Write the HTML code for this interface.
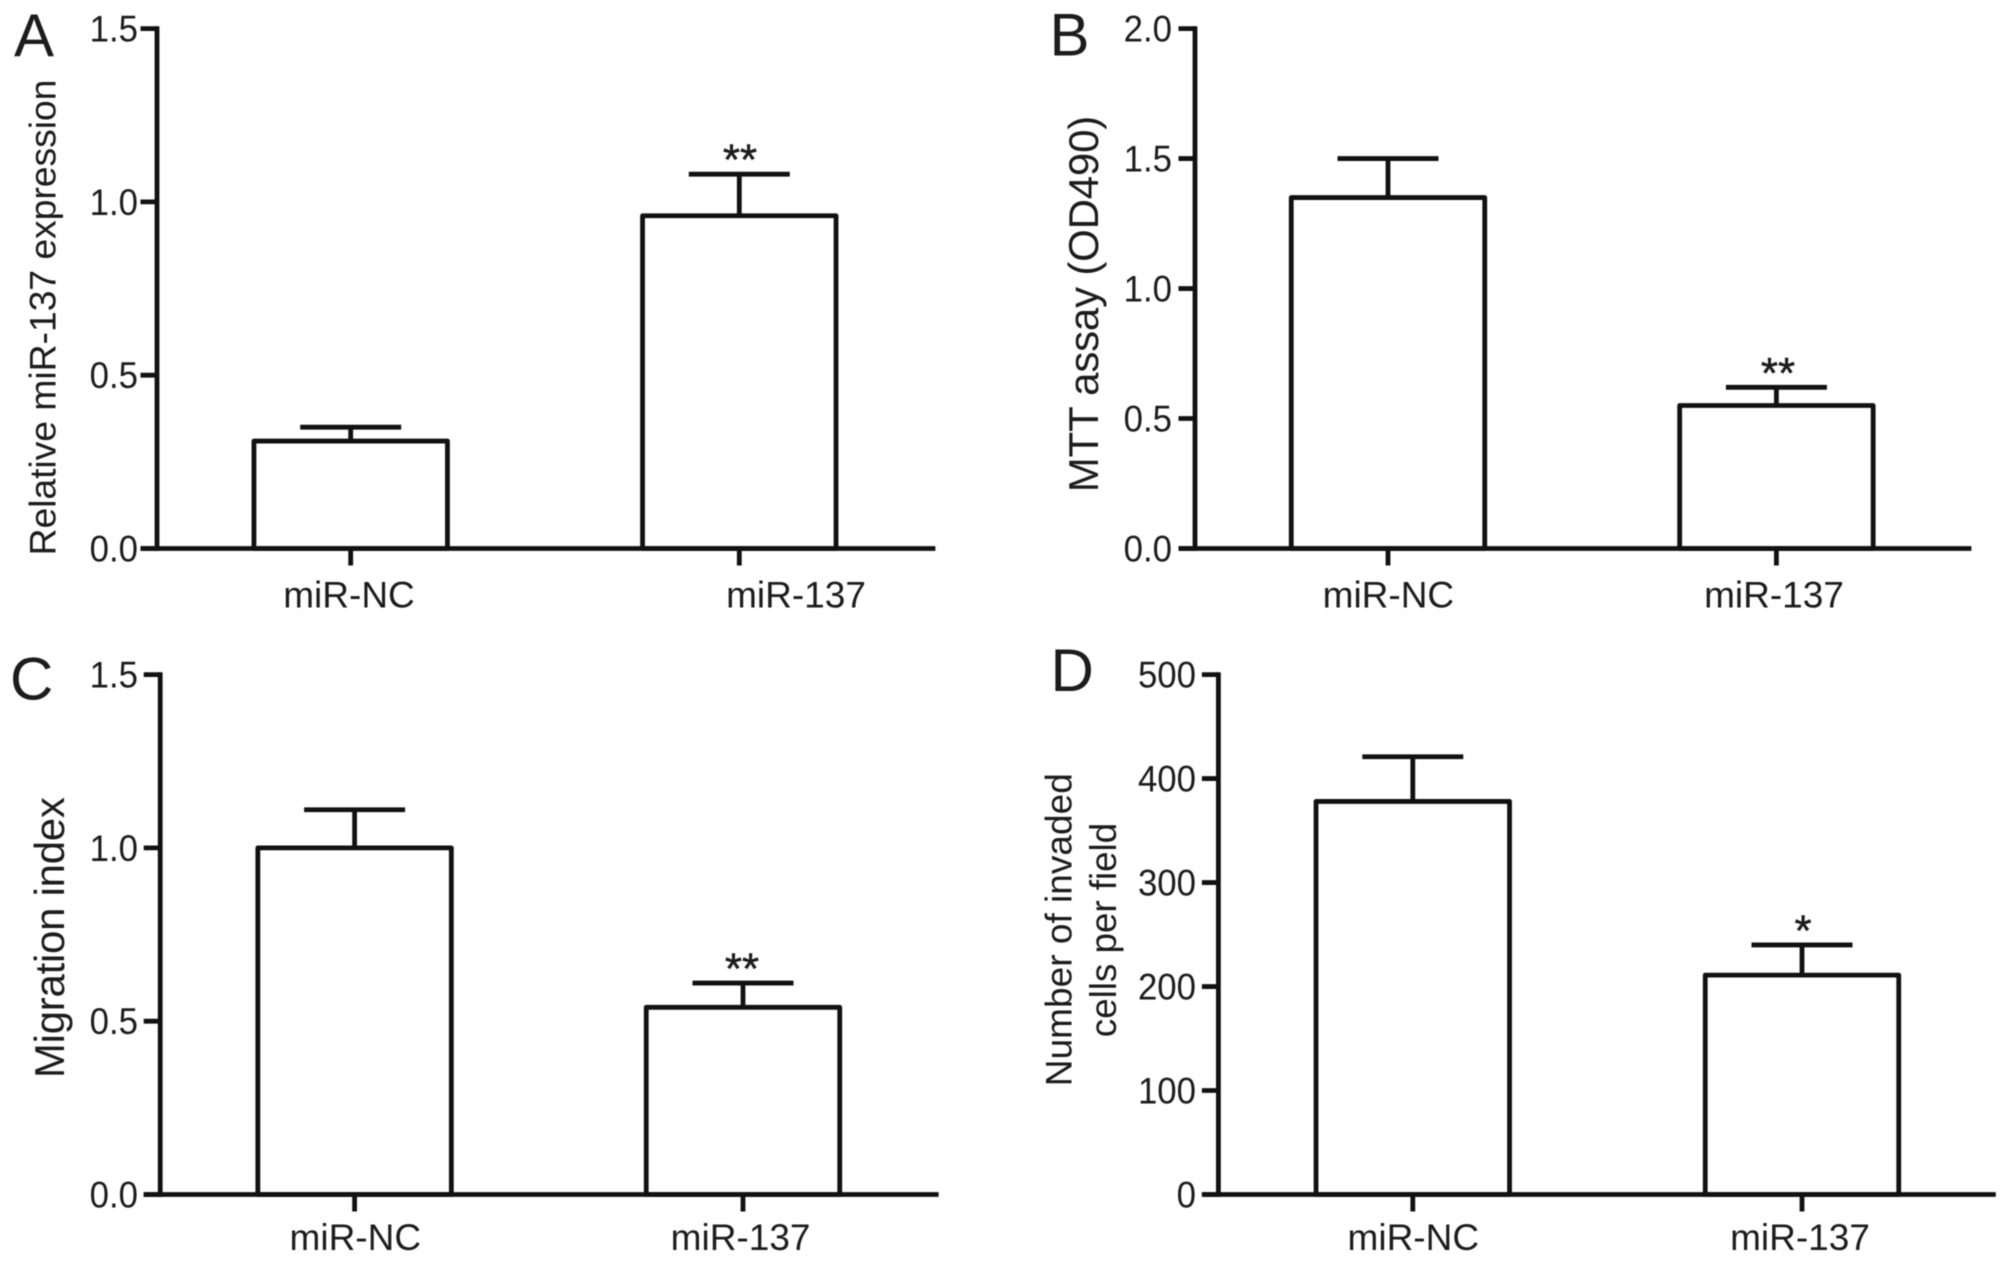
<!DOCTYPE html>
<html lang="en">
<head>
<meta charset="utf-8">
<title>miR-137 bar charts</title>
<style>
html,body{margin:0;padding:0;background:#fff;width:2008px;height:1275px;overflow:hidden}
svg{display:block;filter:blur(0.5px)}
text{font-family:"Liberation Sans",Arial,sans-serif;fill:#1c1c1c}
</style>
</head>
<body>
<svg id="figure" xmlns="http://www.w3.org/2000/svg" width="2008" height="1275" viewBox="0 0 2008 1275">
<rect x="0" y="0" width="2008" height="1275" fill="#fff"/>
</svg>
<script>
const categories = ['miR-NC', 'miR-137'];

const ticksA = ['0.0', '0.5', '1.0', '1.5'];
const meansA = [0.31, 0.96];
const errorsA = [0.04, 0.12];
const starsA = ['', '**'];

const ticksB = ['0.0', '0.5', '1.0', '1.5', '2.0'];
const meansB = [1.35, 0.55];
const errorsB = [0.15, 0.07];
const starsB = ['', '**'];

const ticksC = ['0.0', '0.5', '1.0', '1.5'];
const meansC = [1.0, 0.54];
const errorsC = [0.11, 0.07];
const starsC = ['', '**'];

const ticksD = ['0', '100', '200', '300', '400', '500'];
const meansD = [378, 211];
const errorsD = [43, 29];
const starsD = ['', '*'];

const INK = '#111';
const STROKE = 4.8;
const svg = document.getElementById('figure');
const NS = 'http://www.w3.org/2000/svg';

function make(tag, attrs, parent) {
  const el = document.createElementNS(NS, tag);
  for (const k in attrs) el.setAttribute(k, attrs[k]);
  parent.appendChild(el);
  return el;
}

function line(x1, y1, x2, y2, parent) {
  return make('line', { x1, y1, x2, y2, stroke: INK, 'stroke-width': STROKE }, parent);
}

function label(str, x, y, size, anchor, parent) {
  const t = make('text', { x, y, 'font-size': size, 'text-anchor': anchor }, parent);
  t.textContent = str;
  return t;
}

function rotated(str, x, y, size, len, parent) {
  const t = make('text', {
    x: 0, y: 0, 'font-size': size, 'text-anchor': 'middle',
    textLength: len, lengthAdjust: 'spacing',
    transform: 'translate(' + x + ' ' + y + ') rotate(-90)'
  }, parent);
  t.textContent = str;
  return t;
}

function drawPanel(p) {
  const g = make('g', {}, svg);
  
  

  const maxV = parseFloat(p.ticks[p.ticks.length - 1]);
  const yOf = v => p.bottom - (v / maxV) * (p.bottom - p.top);

  const letter = label(p.id.toUpperCase(), p.letterX, p.letterY, 60, 'start', g);
  
  

  p.titles.forEach(function (tt) {
    const t = rotated(tt.text, tt.x, tt.y, tt.size, tt.len, g);
    
    
  });

  p.means.forEach(function (m, i) {
    const cx = p.centers[i];
    const barTop = yOf(m);
    const capY = yOf(m + p.errors[i]);

    const stem = line(cx, capY, cx, barTop, g);
    
    

    const cap = line(cx - 50.5, capY, cx + 50.5, capY, g);
    
    

    const bar = make('rect', {
      x: cx - 96.75, y: barTop, width: 193.5, height: p.bottom - barTop,
      fill: '#fff', stroke: INK, 'stroke-width': STROKE, 'stroke-linejoin': 'round'
    }, g);
    
    

    if (p.stars[i]) {
      const s = label(p.stars[i], p.starX, capY + 0.5, 44, 'middle', g);
      s.setAttribute('stroke', '#1c1c1c');
      s.setAttribute('stroke-width', '0.5');
      
      
    }
  });

  const yAxis = line(p.axisX, p.top - 2.4, p.axisX, p.bottom + 2.4, g);
  
  

  const xAxis = line(p.axisX - 16.5, p.bottom, p.axisEnd, p.bottom, g);
  
  

  p.ticks.forEach(function (tk) {
    const y = yOf(parseFloat(tk));
    const mark = line(p.axisX - 16.5, y, p.axisX, y, g);
    
    
    const t = label(tk, p.tickRight, y + 13, 37, 'end', g);
    t.setAttribute('textLength', (t.getComputedTextLength() * 0.94).toFixed(2));
    t.setAttribute('lengthAdjust', 'spacingAndGlyphs');
    
    
  });

  categories.forEach(function (c, i) {
    const mark = line(p.centers[i], p.bottom, p.centers[i], p.bottom + 17, g);
    
    
    const t = label(c, p.labelX[i], p.labelY, 37, 'middle', g);
    
    
  });
}

drawPanel({
  id: 'a', ticks: ticksA, means: meansA, errors: errorsA, stars: starsA,
  top: 28.6, bottom: 548.5, axisX: 157, axisEnd: 935.4, tickRight: 138,
  centers: [350.7, 739.3], labelX: [349, 796], labelY: 607.5, starX: 740,
  letterX: 14, letterY: 56,
  titles: [{ text: 'Relative miR-137 expression', x: 55.5, y: 317.5, size: 37.5, len: 476 }]
});

drawPanel({
  id: 'b', ticks: ticksB, means: meansB, errors: errorsB, stars: starsB,
  top: 28.6, bottom: 548.5, axisX: 1195, axisEnd: 1971.4, tickRight: 1172,
  centers: [1388, 1776.4], labelX: [1388.4, 1774], labelY: 607.5, starX: 1778,
  letterX: 1049.5, letterY: 55.5,
  titles: [{ text: 'MTT assay (OD490)', x: 1098, y: 304, size: 42, len: 376.5 }]
});

drawPanel({
  id: 'c', ticks: ticksC, means: meansC, errors: errorsC, stars: starsC,
  top: 674.6, bottom: 1194.5, axisX: 160.2, axisEnd: 938.6, tickRight: 138,
  centers: [354.6, 743], labelX: [355.3, 740.6], labelY: 1250, starX: 742,
  letterX: 10, letterY: 699.5,
  titles: [{ text: 'Migration index', x: 64, y: 937.6, size: 42, len: 281 }]
});

drawPanel({
  id: 'd', ticks: ticksD, means: meansD, errors: errorsD, stars: starsD,
  top: 674.6, bottom: 1194.5, axisX: 1218.4, axisEnd: 1995.8, tickRight: 1196,
  centers: [1412.8, 1802], labelX: [1413.3, 1800], labelY: 1250, starX: 1803,
  letterX: 1050.5, letterY: 691,
  titles: [
    { text: 'Number of invaded', x: 1071.3, y: 929.7, size: 37, len: 313 },
    { text: 'cells per field', x: 1116, y: 930, size: 37, len: 214.4 }
  ]
});
</script>
</body>
</html>
